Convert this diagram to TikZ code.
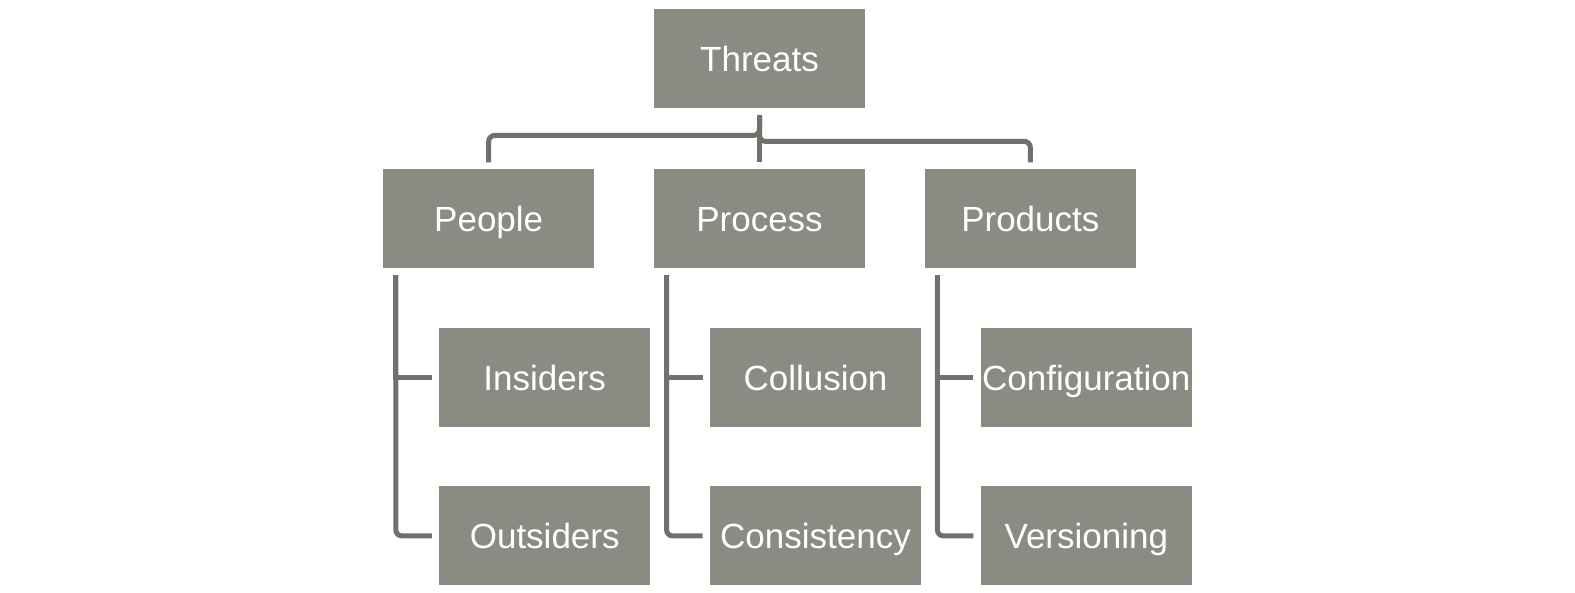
\documentclass[tikz,border=0pt]{standalone}
\usepackage{fontspec}
\setmainfont{Liberation Sans}
\usepackage{xcolor}
\usepackage{tikz}
\usetikzlibrary{positioning}

\definecolor{boxgray}{HTML}{8B8B84}
\definecolor{linegray}{HTML}{70716B}

\begin{document}
\begin{tikzpicture}[
    font=\fontsize{17.5}{21}\selectfont,
    box/.style={fill=boxgray, text=white, inner sep=0pt, align=center,
      text height=13.5pt, text depth=0.5pt,
      minimum width=105.5pt, minimum height=49.5pt},
    conn/.style={draw=linegray, line width=2.5pt, rounded corners=3pt},
  ]
    \useasboundingbox (0,0) rectangle (787.5pt,-296.5pt);

    % --- top ---
    \node[box] (threats) at (379.75pt,-29.25pt) {Threats};

    % --- second row ---
    \node[box, below=30pt of threats] (process) {Process};
    \node[box, left=29.5pt of process] (people) {People};
    \node[box, right=29.5pt of process] (products) {Products};

    % --- leaves ---
    \node[box, below=29.5pt of people, xshift=28pt] (insiders) {Insiders};
    \node[box, below=29.5pt of insiders] (outsiders) {Outsiders};
    \node[box, below=29.5pt of process, xshift=28pt] (collusion) {Collusion};
    \node[box, below=29.5pt of collusion] (consistency) {Consistency};
    \node[box, below=29.5pt of products, xshift=28pt] (config) {Configuration};
    \node[box, below=29.5pt of config] (versioning) {Versioning};

    % top connectors
    \draw[conn, shorten <=3.5pt, shorten >=3pt] (threats.south) -- ++(0,-13.5pt) -| (people.north);
    \draw[conn, shorten <=3.5pt, shorten >=3pt] (threats.south) -- ++(0,-16.5pt) -| (products.north);
    \draw[conn, shorten <=3.5pt, shorten >=3pt] (threats.south) -- (process.north);

    % side connectors
    \draw[conn, shorten <=3.5pt, shorten >=3.5pt] ([xshift=6.5pt]people.south west) |- (outsiders.west);
    \draw[conn, sharp corners, shorten <=3.5pt, shorten >=3.5pt] ([xshift=6.5pt]people.south west) |- (insiders.west);
    \draw[conn, shorten <=3.5pt, shorten >=3.5pt] ([xshift=6.5pt]process.south west) |- (consistency.west);
    \draw[conn, sharp corners, shorten <=3.5pt, shorten >=3.5pt] ([xshift=6.5pt]process.south west) |- (collusion.west);
    \draw[conn, shorten <=3.5pt, shorten >=3.5pt] ([xshift=6.5pt]products.south west) |- (versioning.west);
    \draw[conn, sharp corners, shorten <=3.5pt, shorten >=3.5pt] ([xshift=6.5pt]products.south west) |- (config.west);
\end{tikzpicture}
\end{document}
